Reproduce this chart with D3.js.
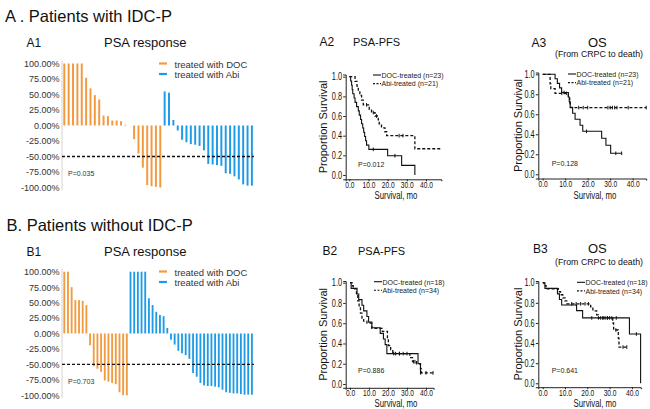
<!DOCTYPE html>
<html><head><meta charset="utf-8">
<script src="https://cdn.jsdelivr.net/npm/d3@7"></script>
<style>
body{margin:0;background:#fff}
svg{display:block}
text{font-family:Arial,"Liberation Sans",sans-serif}
</style>
</head><body>
<svg id="c" width="650" height="409"></svg>
<script>
// ---------------- DATA ----------------
const pctTicks = [100, 75, 50, 25, 0, -25, -50, -75, -100];
const kmTicksX = [0, 10, 20, 30, 40];
const kmTicksY = [0, 0.2, 0.4, 0.6, 0.8, 1.0];
const groupLabels = ["treated with DOC", "treated with Abi"];

// PSA response (% change), waterfall
const a1Doc = [100,100,100,100,100,77,60,49,42,16,15,8,8,7,1,0,-22,-45,-68,-96,-98,-99,-100];
const a1Abi = [55,53,9,-8,-23,-27,-30,-31,-33,-40,-62,-63,-64,-65,-77,-78,-82,-87,-95,-97,-97];
const b1Doc = [100,100,75,54,54,53,46,-19,-53,-57,-62,-76,-78,-80,-82,-95,-100,-100];
const b1Abi = [100,100,100,100,100,57,46,35,30,28,9,-10,-18,-28,-32,-35,-41,-64,-70,-80,-84,-85,-85,-86,-87,-91,-95,-96,-97,-97,-98,-99,-99,-99];

// Kaplan-Meier step curves (months, proportion surviving)
const a2DocT = [0,0.7,1.2,1.5,1.8,2.5,3.0,3.8,4.7,5.2,5.9,6.4,7.0,7.5,8.0,8.5,9.0,10.2,20.0,27.3,34.2];
const a2DocS = [1,0.957,0.913,0.870,0.826,0.783,0.739,0.696,0.652,0.609,0.565,0.522,0.478,0.435,0.391,0.348,0.304,0.261,0.196,0.098,0];
const a2DocEnd = 34.2, a2DocCens = [12.5, 23.8];
const a2AbiT = [0,3.0,4.0,4.7,5.5,6.4,7.3,10.4,11.6,13.4,15.1,15.6,16.8,18.6,19.5,34.2];
const a2AbiS = [1,0.952,0.905,0.857,0.810,0.762,0.714,0.667,0.635,0.600,0.560,0.520,0.480,0.440,0.400,0.267];
const a2AbiEnd = 48, a2AbiCens = [9.0, 12.5, 14.2, 26, 28];

const a3DocT = [0,5.5,6.5,7.5,8.4,11.4,11.8,12.2,13.3,14.4,16.6,17.8,26.2,28.1,30.2];
const a3DocS = [1,0.955,0.909,0.864,0.818,0.773,0.727,0.67,0.61,0.55,0.49,0.43,0.36,0.29,0.21];
const a3DocEnd = 35.1, a3DocCens = [9.5, 19.5, 32.5, 35.1];
const a3AbiT = [0,3.3,3.6,5.5,11.4,12.0,12.3];
const a3AbiS = [1,0.905,0.857,0.81,0.762,0.714,0.667];
const a3AbiEnd = 46, a3AbiCens = [8.5,10.5,16,18,20,29,30,31,32,33,38,46];

const b2DocT = [0,0.6,3.7,4.6,6.3,7.2,8.9,9.8,11.5,15.9,17.6,18.5,19.4,35.8,37.1];
const b2DocS = [1,0.944,0.889,0.833,0.778,0.722,0.667,0.611,0.556,0.5,0.444,0.389,0.30,0.20,0.10];
const b2DocEnd = 37.6, b2DocCens = [23, 26];
const b2AbiT = [0,1.1,1.7,3.4,4.1,4.8,5.5,6.3,7.2,8.9,11.5,17.0,19.7,20.2,21.4,22.5,31.5,32.9,35.0,37.1,37.6];
const b2AbiS = [1,0.97,0.94,0.88,0.82,0.76,0.70,0.65,0.62,0.60,0.55,0.52,0.45,0.38,0.34,0.30,0.26,0.22,0.20,0.15,0.11];
const b2AbiEnd = 43.7, b2AbiCens = [24,26,28,30,33.5,34.2,40,43.7];

const b3DocT = [0,1.0,6.6,7.5,8.5,15.2,17.9,38.9,43.9];
const b3DocS = [1,0.944,0.889,0.833,0.778,0.722,0.65,0.49,0];
const b3DocEnd = 43.9, b3DocCens = [22,25,27,29,31,33,42];
const b3AbiT = [0,0.6,1.5,7.0,8.0,9.0,10.0,10.8,21.5,22.5,24.2,25.0,31.4,31.8,33.9,34.2];
const b3AbiS = [1,0.97,0.94,0.91,0.88,0.85,0.82,0.79,0.76,0.72,0.68,0.65,0.60,0.53,0.45,0.36];
const b3AbiEnd = 37.7, b3AbiCens = [13,15,17,19,20.5,26,27,28,29,30,32.8,36,37.7];

// ---------------- DRAW ----------------
const svg = d3.select('#c');
const ORANGE = '#F39A3E', BLUE = '#1E9BE6';

function txt(x, y, s, size, opt = {}) {
  const t = svg.append('text').attr('x', x).attr('y', y).text(s)
    .attr('font-size', size).attr('fill', opt.fill || '#111')
    .attr('text-anchor', opt.anchor || 'start');
  if (opt.mid) t.attr('dominant-baseline', 'central');
  if (opt.rot) t.attr('transform', `rotate(-90,${x},${y})`);
  if (opt.sx) squeeze(t, opt.sx);
  return t;
}
function squeeze(sel, f) {
  sel.each(function () {
    const w = this.getComputedTextLength();
    this.setAttribute('textLength', w * f);
    this.setAttribute('lengthAdjust', 'spacingAndGlyphs');
  });
}

// Titles
txt(5, 21.7, 'A . Patients with IDC-P', 16.5);
txt(6.5, 230.5, 'B. Patients without IDC-P', 16.5);

function waterfall(cfg, doc, abi, pLabel) {
  const g = svg.append('g');
  const vals = doc.map(v => ({v, c: ORANGE})).concat(abi.map(v => ({v, c: BLUE})));
  const n = vals.length;
  const step = (cfg.xLast - cfg.xFirst) / (n - 1);
  const x = d3.scaleBand().domain(d3.range(n))
    .range([cfg.xFirst - step / 2, cfg.xLast + step / 2])
    .paddingInner(cfg.pad).paddingOuter(cfg.pad / 2);
  const y = d3.scaleLinear().domain([-100, 100]).range([cfg.yBot, cfg.yTop]);
  const ax = g.append('g').attr('transform', `translate(${cfg.axisX},0)`)
    .call(d3.axisLeft(y).tickValues(pctTicks).tickFormat(d => d.toFixed(2) + '%')
      .tickSize(0).tickPadding(2.5));
  ax.select('.domain').attr('stroke', '#d4d4d4').attr('stroke-width', 1)
    .attr('d', `M0,${cfg.yBot + 3}V${cfg.yTop - 3}`);
  ax.selectAll('text').attr('font-size', 9).attr('fill', '#333').attr('font-family', 'Arial,"Liberation Sans",sans-serif');
  g.selectAll('rect.bar').data(vals).enter().append('rect')
    .attr('x', (d, i) => x(i)).attr('width', x.bandwidth())
    .attr('y', d => Math.min(y(d.v), y(0)))
    .attr('height', d => Math.abs(y(d.v) - y(0)))
    .attr('fill', d => d.c);
  g.append('line').attr('x1', cfg.axisX).attr('x2', cfg.xLast + 2)
    .attr('y1', y(-50)).attr('y2', y(-50))
    .attr('stroke', '#111').attr('stroke-width', 1.3).attr('stroke-dasharray', '3,2');
  // legend
  [ORANGE, BLUE].forEach((c, i) => {
    const ly = cfg.legY + i * 10.5;
    g.append('line').attr('x1', 159).attr('x2', 167).attr('y1', ly).attr('y2', ly)
      .attr('stroke', c).attr('stroke-width', 2.2);
    txt(174.5, ly + 0.5, groupLabels[i], 9.5, {mid: true, fill: '#333'});
  });
  txt(68, cfg.pY, pLabel, 7, {mid: true, fill: '#333'});
}

waterfall({xFirst: 64.3, xLast: 251.9, pad: 0.55, yTop: 63.5, yBot: 187.5, axisX: 62, legY: 63.5, pY: 173}, a1Doc, a1Abi, 'P=0.035');
waterfall({xFirst: 64.3, xLast: 251.9, pad: 0.5, yTop: 271.7, yBot: 395.3, axisX: 62, legY: 271.5, pY: 381.7}, b1Doc, b1Abi, 'P=0.703');

// panel labels
txt(26.5, 47, 'A1', 12);
txt(104, 47, 'PSA response', 13);
txt(26.5, 255.5, 'B1', 12);
txt(104, 255.5, 'PSA response', 13);

function stepAt(T, S, t) {
  let i = 0;
  for (let k = 0; k < T.length; k++) if (T[k] <= t) i = k;
  return S[i];
}

function km(cfg, curves, labels, pLabel) {
  const g = svg.append('g');
  const x = d3.scaleLinear().domain([0, 40]).range([cfg.x0, cfg.x0 + 40 * cfg.pxm]);
  const y = d3.scaleLinear().domain([0, 1]).range([cfg.y0, cfg.y1]);
  const xA = d3.scaleLinear().domain([x.invert(cfg.axL), cfg.tEnd]).range([cfg.axL, x(cfg.tEnd)]);
  const yA = d3.scaleLinear().domain([y.invert(cfg.axB), y.invert(cfg.axT)]).range([cfg.axB, cfg.axT]);
  const gx = g.append('g').attr('transform', `translate(0,${cfg.axB})`)
    .call(d3.axisBottom(xA).tickValues(kmTicksX).tickFormat(d => d.toFixed(1))
      .tickSizeOuter(0).tickSize(2).tickPadding(0));
  const gy = g.append('g').attr('transform', `translate(${cfg.axL},0)`)
    .call(d3.axisLeft(yA).tickValues(kmTicksY).tickFormat(d => d.toFixed(1))
      .tickSizeOuter(0).tickSize(2.5).tickPadding(1.2));
  [[gx, 9.2], [gy, 10.2]].forEach(([a, fs]) => {
    a.selectAll('path,line').attr('stroke', '#222').attr('stroke-width', 1);
    a.selectAll('text').attr('font-size', fs).attr('fill', '#111')
      .attr('font-family', 'Arial,"Liberation Sans",sans-serif');
    squeeze(a.selectAll('text'), 0.72);
  });
  const line = d3.line().x(d => x(d[0])).y(d => y(d[1])).curve(d3.curveStepAfter);
  curves.forEach(c => {
    const pts = c.T.map((t, i) => [t, c.S[i]]);
    pts.push([c.end, c.S[c.S.length - 1]]);
    g.append('path').attr('d', line(pts)).attr('fill', 'none')
      .attr('stroke', '#111').attr('stroke-width', c.dash ? 1.3 : 1.1)
      .attr('stroke-dasharray', c.dash ? '3,2' : null);
    g.selectAll(null).data(c.cens).enter().append('line')
      .attr('x1', d => x(d)).attr('x2', d => x(d))
      .attr('y1', d => y(stepAt(c.T, c.S, d)) - 1.8)
      .attr('y2', d => y(stepAt(c.T, c.S, d)) + 1.8)
      .attr('stroke', '#111').attr('stroke-width', 1);
  });
  // legend
  labels.forEach((s, i) => {
    const ly = cfg.legY + i * 8.6;
    g.append('line').attr('x1', cfg.legX).attr('x2', cfg.legX + 8).attr('y1', ly).attr('y2', ly)
      .attr('stroke', '#111').attr('stroke-width', 1.1).attr('stroke-dasharray', i ? '2,1.5' : null);
    txt(cfg.legX + 8.5, ly + 0.3, s, 7, {mid: true, fill: '#222'});
  });
  txt(cfg.pX, cfg.pY, pLabel, 7, {mid: true, fill: '#222'});
  txt(cfg.ylabX, (cfg.axB + cfg.axT) / 2, 'Proportion Survival', 11, {rot: true, anchor: 'middle', mid: true});
  txt(cfg.xlabX, cfg.xlabY, 'Survival, mo', 10, {anchor: 'middle', sx: 0.78});
}

const mk = (T, S, end, cens, dash) => ({T, S, end, cens, dash});

km({x0: 349.3, pxm: 1.917, y0: 175, y1: 76.7, axL: 345.7, axB: 179.3, axT: 74.5, tEnd: 48,
    legX: 373, legY: 75, pX: 358, pY: 164.3, ylabX: 323, xlabX: 396, xlabY: 199.3},
   [mk(a2DocT, a2DocS, a2DocEnd, a2DocCens, false), mk(a2AbiT, a2AbiS, a2AbiEnd, a2AbiCens, true)],
   ['DOC-treated (n=23)', 'Abi-treated (n=21)'], 'P=0.012');
km({x0: 542.7, pxm: 2.25, y0: 174.3, y1: 74.3, axL: 538.3, axB: 178.5, axT: 72.5, tEnd: 46,
    legX: 568, legY: 74, pX: 551.7, pY: 163.3, ylabX: 518.3, xlabX: 595, xlabY: 199},
   [mk(a3DocT, a3DocS, a3DocEnd, a3DocCens, false), mk(a3AbiT, a3AbiS, a3AbiEnd, a3AbiCens, true)],
   ['DOC-treated (n=23)', 'Abi-treated (n=21)'], 'P=0.128');
km({x0: 350, pxm: 1.9, y0: 384, y1: 282.7, axL: 345.7, axB: 387.8, axT: 281, tEnd: 44,
    legX: 374, legY: 281.7, pX: 358, pY: 370, ylabX: 323.3, xlabX: 396, xlabY: 407.3},
   [mk(b2DocT, b2DocS, b2DocEnd, b2DocCens, false), mk(b2AbiT, b2AbiS, b2AbiEnd, b2AbiCens, true)],
   ['DOC-treated (n=18)', 'Abi-treated (n=34)'], 'P=0.886');
km({x0: 542.7, pxm: 2.23, y0: 383.3, y1: 282.7, axL: 538.3, axB: 387.2, axT: 281, tEnd: 44,
    legX: 577, legY: 282.3, pX: 551.7, pY: 370, ylabX: 518.3, xlabX: 595, xlabY: 407},
   [mk(b3DocT, b3DocS, b3DocEnd, b3DocCens, false), mk(b3AbiT, b3AbiS, b3AbiEnd, b3AbiCens, true)],
   ['DOC-treated (n=18)', 'Abi-treated (n=34)'], 'P=0.641');

// KM panel titles
txt(319.5, 45.5, 'A2', 12);
txt(353, 45.5, 'PSA-PFS', 11);
txt(531.5, 46.5, 'A3', 12);
txt(588, 46.5, 'OS', 13);
txt(555, 56.7, '(From CRPC to death)', 8.8);
txt(322.5, 255, 'B2', 12);
txt(358, 255, 'PSA-PFS', 11);
txt(533, 253, 'B3', 12);
txt(588, 253, 'OS', 13);
txt(555, 265, '(From CRPC to death)', 8.8);
</script>
</body></html>
